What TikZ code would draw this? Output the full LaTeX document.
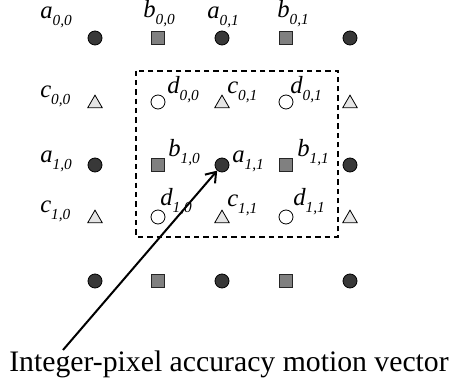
\documentclass[tikz,border=0pt]{standalone}
\usepackage{fontspec}
\setmainfont{Liberation Serif}
\usetikzlibrary{shapes.geometric,arrows.meta}
\newcommand\lbl[2]{\fontsize{18.5}{18.5}\selectfont\textit{#1}\raisebox{-5pt}{\fontsize{11.5}{11.5}\selectfont\textit{#2}}}
\tikzset{
  px/.style={x=0.75pt,y=-0.75pt},
  fullpt/.style={circle,draw=black,fill=black!78,minimum size=10.5pt,inner sep=0pt,line width=0.6pt},
  halfpt/.style={rectangle,draw=black!85,fill=black!50,minimum size=10pt,inner sep=0pt,line width=0.6pt},
  hqpt/.style={regular polygon,regular polygon sides=3,draw=black,fill=black!10,minimum size=12.5pt,inner sep=0pt,line width=0.6pt},
  qqpt/.style={circle,draw=black,fill=white,minimum size=10.5pt,inner sep=0pt,line width=0.6pt},
  lab/.style={anchor=base west,inner sep=0pt},
}
\begin{document}
\begin{tikzpicture}[px]
\useasboundingbox (0,0) rectangle (453,391);
% row 0
\node[fullpt] (a00) at (95,38) {};
\node[halfpt] (b00) at (158,38) {};
\node[fullpt] (a01) at (222,38) {};
\node[halfpt] (b01) at (286,38) {};
\node[fullpt] (a02) at (350,38) {};
% row c0
\node[hqpt] (c00) at (95,103.5) {};
\node[qqpt] (d00) at (158,102) {};
\node[hqpt] (c01) at (222,103.5) {};
\node[qqpt] (d01) at (286,102) {};
\node[hqpt] (c02) at (350,103.5) {};
% row 1
\node[fullpt] (a10) at (95,165) {};
\node[halfpt] (b10) at (158,165) {};
\node[fullpt] (a11) at (222,165) {};
\node[halfpt] (b11) at (286,165) {};
\node[fullpt] (a12) at (350,165) {};
% row c1
\node[hqpt] (c10) at (95,218.5) {};
\node[qqpt] (d10) at (158,217) {};
\node[hqpt] (c11) at (222,218.5) {};
\node[qqpt] (d11) at (286,217) {};
\node[hqpt] (c12) at (350,218.5) {};
% row 2
\node[fullpt] (a20) at (95,281) {};
\node[halfpt] (b20) at (158,281) {};
\node[fullpt] (a21) at (222,281) {};
\node[halfpt] (b21) at (286,281) {};
\node[fullpt] (a22) at (350,281) {};
% labels
\node[lab] (la00) at (40,19) {\lbl{a}{0,0}};
\node[lab] (lb00) at (143,18) {\lbl{b}{0,0}};
\node[lab] (la01) at (207,19) {\lbl{a}{0,1}};
\node[lab] (lb01) at (277,18) {\lbl{b}{0,1}};
\node[lab] (lc00) at (40,98) {\lbl{c}{0,0}};
\node[lab] (ld00) at (167,94) {\lbl{d}{0,0}};
\node[lab] (lc01) at (227,94) {\lbl{c}{0,1}};
\node[lab] (ld01) at (290,94) {\lbl{d}{0,1}};
\node[lab] (la10) at (40,163) {\lbl{a}{1,0}};
\node[lab] (lb10) at (168,157) {\lbl{b}{1,0}};
\node[lab] (la11) at (232,163) {\lbl{a}{1,1}};
\node[lab] (lb11) at (297,157) {\lbl{b}{1,1}};
\node[lab] (lc10) at (40,213) {\lbl{c}{1,0}};
\node[lab] (ld10) at (160,206) {\lbl{d}{1,0}};
\node[lab] (lc11) at (227,207) {\lbl{c}{1,1}};
\node[lab] (ld11) at (293,206) {\lbl{d}{1,1}};
% dashed window
\draw[line width=1.3pt,dash pattern=on 4pt off 3pt] (136,70.7) rectangle (338,236.7);
% motion vector
\coordinate (mvs) at (63,350);
\draw[line width=1.5pt,-{Straight Barb[length=7pt,width=10pt]}] (mvs) -- (a11);
\node[anchor=base,inner sep=0pt,font=\fontsize{22.3}{22.3}\selectfont] (cap) at (229,372) {Integer-pixel accuracy motion vector};
\end{tikzpicture}
\end{document}
